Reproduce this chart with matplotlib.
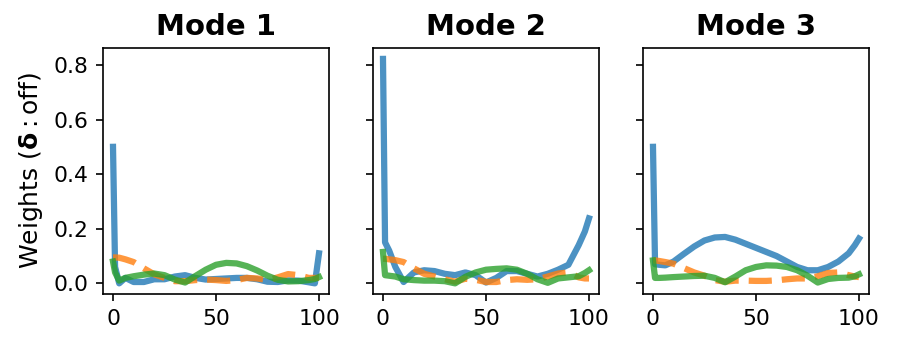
import matplotlib
matplotlib.use('Agg')
import matplotlib.pyplot as plt

# sample positions along the horizontal axis
x = [0, 1, 3, 6, 10, 15, 20, 25, 30, 35, 40, 45, 50, 55, 60, 65, 70, 75,
     80, 85, 90, 95, 98, 100]

modes = ['Mode 1', 'Mode 2', 'Mode 3']

# Mode 1
m1_blue = [0.50, 0.06, 0.0, 0.02, 0.005, 0.005, 0.015, 0.015, 0.025, 0.03,
           0.02, 0.014, 0.016, 0.018, 0.02, 0.02, 0.015, 0.006, 0.005, 0.011,
           0.01, 0.004, 0.0, 0.11]
m1_orange = [0.095, 0.095, 0.094, 0.088, 0.078, 0.055, 0.033, 0.02, 0.008,
             0.008, 0.012, 0.014, 0.012, 0.009, 0.012, 0.02, 0.018, 0.012,
             0.022, 0.034, 0.03, 0.02, 0.02, 0.02]
m1_green = [0.08, 0.04, 0.01, 0.02, 0.026, 0.032, 0.036, 0.03, 0.014, 0.003,
            0.027, 0.05, 0.068, 0.075, 0.073, 0.063, 0.047, 0.028, 0.013,
            0.007, 0.008, 0.012, 0.016, 0.023]

# Mode 2
m2_blue = [0.822, 0.15, 0.12, 0.06, 0.005, 0.04, 0.048, 0.045, 0.035, 0.03,
           0.04, 0.03, 0.003, 0.02, 0.045, 0.045, 0.035, 0.025, 0.035, 0.05,
           0.068, 0.14, 0.19, 0.238]
m2_orange = [0.09, 0.09, 0.088, 0.085, 0.078, 0.055, 0.035, 0.025, 0.015,
             0.006, 0.017, 0.013, 0.005, 0.005, 0.012, 0.015, 0.013, 0.015,
             0.025, 0.036, 0.04, 0.022, 0.018, 0.018]
m2_green = [0.115, 0.03, 0.028, 0.025, 0.015, 0.012, 0.01, 0.01, 0.008, 0.0,
            0.024, 0.04, 0.05, 0.053, 0.055, 0.05, 0.035, 0.015, 0.002,
            0.018, 0.022, 0.026, 0.038, 0.048]

# Mode 3
m3_blue = [0.50, 0.07, 0.068, 0.066, 0.08, 0.108, 0.135, 0.157, 0.168, 0.17,
           0.16, 0.145, 0.13, 0.115, 0.1, 0.08, 0.06, 0.048, 0.048, 0.06,
           0.08, 0.11, 0.14, 0.164]
m3_orange = [0.084, 0.084, 0.082, 0.078, 0.072, 0.056, 0.04, 0.028, 0.012,
             0.006, 0.01, 0.01, 0.009, 0.009, 0.011, 0.015, 0.018, 0.018,
             0.026, 0.038, 0.04, 0.03, 0.025, 0.023]
m3_green = [0.084, 0.02, 0.02, 0.021, 0.023, 0.025, 0.027, 0.028, 0.02,
            0.004, 0.025, 0.048, 0.06, 0.066, 0.065, 0.06, 0.048, 0.028,
            0.003, 0.016, 0.02, 0.021, 0.026, 0.033]

series = [
    (m1_blue, m1_orange, m1_green),
    (m2_blue, m2_orange, m2_green),
    (m3_blue, m3_orange, m3_green),
]

fig, axes = plt.subplots(1, 3, sharey=True, figsize=(897 / 150, 347 / 150), dpi=150)
fig.subplots_adjust(left=0.1145, right=0.9691, bottom=0.1527, top=0.8625,
                    wspace=0.1915)

for ax, title, (blue, orange, green) in zip(axes, modes, series):
    ax.plot(x, blue, color='tab:blue', lw=3, alpha=0.8)
    ax.plot(x, orange, color='tab:orange', lw=3, alpha=0.8, ls='--')
    ax.plot(x, green, color='tab:green', lw=3, alpha=0.8)
    ax.set_title(title, fontsize=14, fontweight='bold')
    ax.set_xlim(-5, 105)
    ax.set_xticks([0, 50, 100])
    ax.tick_params(labelsize=10.5)

axes[0].set_ylim(-0.039, 0.863)
axes[0].set_yticks([0.0, 0.2, 0.4, 0.6, 0.8])
axes[0].set_ylabel(r'Weights ($\mathbf{\delta}:\mathrm{off}$)', fontsize=12)

plt.savefig('out.png', dpi=150)
